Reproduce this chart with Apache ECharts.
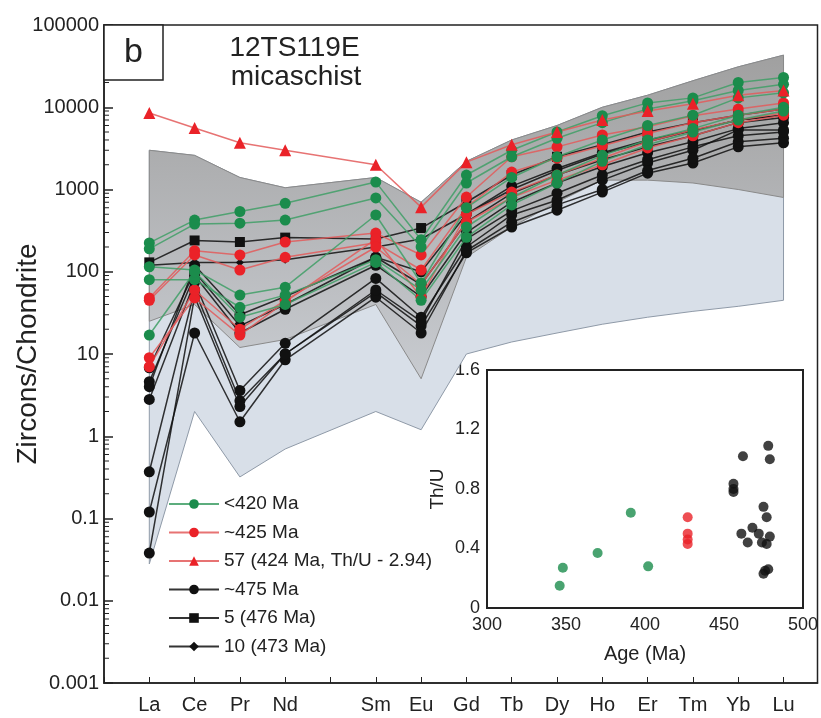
<!DOCTYPE html>
<html><head><meta charset="utf-8">
<script src="https://cdn.jsdelivr.net/npm/echarts@6/dist/echarts.min.js"></script>
<style>html,body{margin:0;padding:0;background:#fff}#c{width:821px;height:718px}</style>
</head><body><div id="c"></div>
<script>
// ---------- categories / ticks ----------
const elements = ['La','Ce','Pr','Nd','Pm','Sm','Eu','Gd','Tb','Dy','Ho','Er','Tm','Yb','Lu'];
const yTickLabels = ['0.001','0.01','0.1','1','10','100','1000','10000','100000'];
const insetYLabels = ['0','0.4','0.8','1.2','1.6'];
const insetXLabels = ['300','350','400','450','500'];

// ---------- reference fields (upper / lower boundaries) ----------
const fieldTop   = [3000, 2600, 1400, 1050, null, 1400, 700, 2200, 4000, 6000, 10000, 14000, 21000, 31000, 43000];
const grayLower  = [25, 40, 12, 15, null, 40, 5, 150, 350, 700, 1300, 1300, 1200, 1000, 800];
const blueLower  = [0.028, 2, 0.32, 0.7, null, 2, 1.2, 10, 14, 18, 23, 28, 33, 38, 45];

// ---------- <420 Ma (green) ----------
const g1 = [224, 425, 540, 680, null, 1230, 245, 1500, 3000, 5000, 7900, 11300, 13000, 20000, 23000];
const g2 = [190, 380, 390, 425, null, 790, 200, 1200, 2500, 4200, 6500, 9500, 12000, 16000, 19000];
const g3 = [115, 105, 52, 65, null, 490, 73, 600, 1400, 2500, 4000, 6000, 8000, 13000, 15000];
const g4 = [80, 80, 37, 52, null, 140, 60, 350, 800, 1500, 2600, 4000, 5500, 8000, 10000];
const g5 = [17, 100, 28, 40, null, 130, 45, 262, 650, 1200, 2200, 3500, 5000, 7000, 9000];
// ---------- ~425 Ma (red) ----------
const r1 = [48, 180, 160, 230, null, 295, 160, 810, 2500, 3300, 4600, 5800, 7900, 9500, 11300];
const r2 = [45, 160, 105, 150, null, 225, 105, 610, 1630, 2400, 3400, 4800, 6500, 8000, 9500];
const r3 = [9, 48, 17, 43, null, 250, 49, 500, 930, 1500, 2400, 3800, 5300, 7000, 8500];
const r4 = [7, 60, 20, 45, null, 200, 70, 400, 800, 1300, 2000, 3200, 4500, 6500, 8000];
// ---------- spot 57 (red triangle) ----------
const s57 = [8500, 5600, 3700, 3000, null, 2000, 610, 2150, 3500, 5000, 7000, 9000, 11000, 14000, 16000];
// ---------- ~475 Ma (black circles) ----------
const b1 = [6.8, 100, 22, 40, null, 150, 70, 400, 900, 1500, 2300, 3300, 4500, 6500, 7500];
const b2 = [4.6, 90, 18, 35, null, 120, 50, 300, 700, 1200, 1900, 2800, 3800, 5500, 6500];
const b3 = [2.8, 75, 3.6, 13.5, null, 83, 28, 200, 490, 740, 1300, 2100, 3000, 5300, 5300];
const b4 = [0.37, 60, 2.7, 10, null, 56, 22, 170, 350, 560, 930, 1580, 2100, 3300, 3700];
const b5 = [0.12, 18, 1.5, 8.5, null, 49, 18, 180, 400, 650, 1000, 1700, 2400, 3800, 4200];
const b6 = [0.038, 50, 2.3, 10, null, 60, 25, 250, 550, 900, 1500, 2300, 3300, 4500, 5000];
const b7 = [4, 120, 30, 50, null, 150, 100, 500, 1100, 1800, 2800, 4000, 5200, 7000, 8000];
// ---------- spot 5 (black square) and spot 10 (black diamond) ----------
const s5  = [130, 240, 230, 260, null, 250, 340, 700, 1500, 2500, 3500, 5000, 6500, 8000, 9500];
const s10 = [120, 130, 130, 140, null, 200, 250, 500, 1000, 1700, 2700, 3800, 5200, 7000, 8000];

// ---------- inset Th/U vs age ----------
const agesGreen = [348, 346, 370, 391, 402];
const thuGreen  = [0.27, 0.15, 0.37, 0.64, 0.28];
const agesRed   = [427, 427, 427, 427];
const thuRed    = [0.61, 0.50, 0.46, 0.43];
const agesBlack = [462, 456, 456, 456, 478, 479, 475, 477, 461, 465, 468, 472, 474, 477, 479, 476, 478, 475];
const thuBlack  = [1.02, 0.835, 0.80, 0.78, 1.09, 1.00, 0.68, 0.61, 0.50, 0.44, 0.54, 0.50, 0.44, 0.43, 0.48, 0.25, 0.26, 0.23];

const GREEN = '#1b8c4c', GREEN_LINE = '#3f9f66';
const RED = '#ea2228', RED_LINE = '#e35a5a';
const BLACK = '#111111';

function pairs(arr){ const out=[]; arr.forEach((v,i)=>{ if(v!=null) out.push([i,v]); }); return out; }

function lineSeries(name, arr, color, lineColor, symbol, size, z){
  return {
    type:'line', name, data: pairs(arr), xAxisIndex:0, yAxisIndex:0,
    symbol, symbolSize:size, showSymbol:true, connectNulls:true,
    itemStyle:{color, borderColor:color, borderWidth:0, opacity:1},
    lineStyle:{color:lineColor, width:1.5, opacity:0.85},
    z, animation:false, emphasis:{disabled:true}
  };
}

function polygonSeries(top, bottom, fill, stroke, z){
  return {
    type:'custom', xAxisIndex:0, yAxisIndex:0, z, silent:true, animation:false,
    data:[[0,1]],
    renderItem(params, api){
      const pts=[];
      top.forEach((v,i)=>{ if(v!=null) pts.push(api.coord([i,v])); });
      for(let i=bottom.length-1;i>=0;i--){ if(bottom[i]!=null) pts.push(api.coord([i,bottom[i]])); }
      return {type:'polygon', shape:{points:pts}, style:{fill, stroke, lineWidth:1}};
    }
  };
}

const minorVals=[];
for(let e=-3;e<5;e++){ for(let k=2;k<=9;k++){ minorVals.push([ -1, k*Math.pow(10,e) ]); } }

const chart = echarts.init(document.getElementById('c'), null, {renderer:'canvas'});
const FONT = 'Liberation Sans, Arial, sans-serif';

const series = [
  polygonSeries(fieldTop, blueLower, '#d8dfe8', '#8f9aa8', 1),
  polygonSeries(fieldTop, grayLower, new echarts.graphic.LinearGradient(0,0,0,1,[{offset:0,color:'#a0a0a0'},{offset:1,color:'#c8cbd0'}]), '#8a8a8a', 1),
  {
    type:'custom', xAxisIndex:0, yAxisIndex:0, z:5, silent:true, animation:false, data:minorVals,
    renderItem(params, api){
      const p = api.coord([api.value(0), api.value(1)]);
      return {type:'line', shape:{x1:p[0], y1:p[1], x2:p[0]+5, y2:p[1]}, style:{stroke:'#222', lineWidth:1}};
    }
  },
  lineSeries('~475 Ma', b1, BLACK, BLACK, 'circle', 11, 3),
  lineSeries('~475 Ma', b2, BLACK, BLACK, 'circle', 11, 3),
  lineSeries('~475 Ma', b3, BLACK, BLACK, 'circle', 11, 3),
  lineSeries('~475 Ma', b4, BLACK, BLACK, 'circle', 11, 3),
  lineSeries('~475 Ma', b5, BLACK, BLACK, 'circle', 11, 3),
  lineSeries('~475 Ma', b6, BLACK, BLACK, 'circle', 11, 3),
  lineSeries('~475 Ma', b7, BLACK, BLACK, 'circle', 11, 3),
  lineSeries('5 (476 Ma)', s5, BLACK, BLACK, 'rect', 10, 3),
  lineSeries('10 (473 Ma)', s10, BLACK, BLACK, 'diamond', 8, 3),
  lineSeries('~425 Ma', r1, RED, RED_LINE, 'circle', 11, 4),
  lineSeries('~425 Ma', r2, RED, RED_LINE, 'circle', 11, 4),
  lineSeries('~425 Ma', r3, RED, RED_LINE, 'circle', 11, 4),
  lineSeries('~425 Ma', r4, RED, RED_LINE, 'circle', 11, 4),
  lineSeries('<420 Ma', g1, GREEN, GREEN_LINE, 'circle', 11, 4),
  lineSeries('<420 Ma', g2, GREEN, GREEN_LINE, 'circle', 11, 4),
  lineSeries('<420 Ma', g3, GREEN, GREEN_LINE, 'circle', 11, 4),
  lineSeries('<420 Ma', g4, GREEN, GREEN_LINE, 'circle', 11, 4),
  lineSeries('<420 Ma', g5, GREEN, GREEN_LINE, 'circle', 11, 4),
  lineSeries('57 (424 Ma, Th/U - 2.94)', s57, RED, RED_LINE, 'triangle', 12, 4),
  // inset
  {type:'scatter', xAxisIndex:1, yAxisIndex:1, data:agesGreen.map((a,i)=>[a,thuGreen[i]]), symbolSize:10, itemStyle:{color:GREEN}, z:10, animation:false,
   markLine:{silent:true, symbol:'none', label:{show:false}, lineStyle:{color:'#8a8a8a', type:'solid', width:2}, data:[{yAxis:0.4}], animation:false}},
  {type:'scatter', xAxisIndex:1, yAxisIndex:1, data:agesRed.map((a,i)=>[a,thuRed[i]]), symbolSize:10, itemStyle:{color:RED}, z:10, animation:false},
  {type:'scatter', xAxisIndex:1, yAxisIndex:1, data:agesBlack.map((a,i)=>[a,thuBlack[i]]), symbolSize:10, itemStyle:{color:BLACK}, z:10, animation:false}
];

chart.setOption({
  backgroundColor:'#ffffff',
  animation:false,
  textStyle:{fontFamily:FONT},
  grid:[
    {left:104, right:3.5, top:25, bottom:35, show:true, borderColor:'#222', borderWidth:1.5, backgroundColor:'transparent', outerBoundsMode:'none', containLabel:false},
    {left:487, right:18, top:370, bottom:110, show:true, borderColor:'#222', borderWidth:2, backgroundColor:'#ffffff', z:8, outerBoundsMode:'none', containLabel:false}
  ],
  xAxis:[
    {type:'value', gridIndex:0, min:-1, max:14.75, interval:1,
     axisLine:{show:true, onZero:false, lineStyle:{color:'#222', width:1.5}},
     axisTick:{show:true, inside:true, length:6, lineStyle:{color:'#222'}},
     splitLine:{show:false},
     axisLabel:{fontSize:20, color:'#222', margin:12, fontFamily:FONT, showMaxLabel:false,
       formatter:v=>{ if(!Number.isInteger(v)||v<0) return ''; const n=elements[v]; return n==='Pm'?'':n; }}},
    {type:'value', gridIndex:1, min:300, max:500, interval:25,
     axisLine:{show:true, onZero:false, lineStyle:{color:'#222', width:2}},
     axisTick:{show:true, inside:true, length:7, lineStyle:{color:'#222', width:1.5}},
     splitLine:{show:false},
     name:'Age (Ma)', nameLocation:'middle', nameGap:36, nameMoveOverlap:false,
     nameTextStyle:{fontSize:20, color:'#222', fontFamily:FONT},
     axisLabel:{fontSize:18, color:'#222', margin:8, fontFamily:FONT,
       formatter:v=>{ const s=String(v); return insetXLabels.indexOf(s)>=0? s : ''; }}}
  ],
  yAxis:[
    {type:'log', gridIndex:0, logBase:10, min:0.001, max:100000,
     axisLine:{show:true, onZero:false, lineStyle:{color:'#222', width:1.5}},
     axisTick:{show:true, inside:true, length:9, lineStyle:{color:'#222', width:1.5}},
     splitLine:{show:false},
     name:'Zircons/Chondrite', nameLocation:'middle', nameGap:62, nameRotate:90, nameMoveOverlap:false,
     nameTextStyle:{fontSize:28, color:'#222', fontFamily:FONT},
     axisLabel:{fontSize:20, color:'#222', margin:5, fontFamily:FONT,
       formatter:v=>{ const e=Math.round(Math.log10(v)); return yTickLabels[e+3]; }}},
    {type:'value', gridIndex:1, min:0, max:1.6, interval:0.4,
     axisLine:{show:true, onZero:false, lineStyle:{color:'#222', width:2}},
     axisTick:{show:false},
     splitLine:{show:true, lineStyle:{color:'#9a9a9a', type:[8,6], width:1.2}},
     name:'Th/U', nameLocation:'middle', nameGap:40, nameRotate:90, nameMoveOverlap:false,
     nameTextStyle:{fontSize:19, color:'#222', fontFamily:FONT},
     axisLabel:{fontSize:18, color:'#222', margin:7, fontFamily:FONT,
       formatter:v=>{ const i=Math.round(v/0.4); return insetYLabels[i]; }}}
  ],
  legend:{
    orient:'vertical', left:163, top:489, itemWidth:50, itemHeight:12, itemGap:8.5,
    textStyle:{fontSize:19, color:'#222', fontFamily:FONT, lineHeight:20, padding:[0,0,0,0]},
    data:['<420 Ma','~425 Ma','57 (424 Ma, Th/U - 2.94)','~475 Ma','5 (476 Ma)','10 (473 Ma)'],
    selectedMode:false
  },
  graphic:[
    {type:'rect', shape:{x:104, y:25, width:59, height:55}, style:{fill:'#fff', stroke:'#222', lineWidth:1.5}, z:20},
    {type:'text', x:133.5, y:53, style:{text:'b', font:'34px '+FONT, fill:'#222', textAlign:'center', textVerticalAlign:'middle'}, z:21},
    {type:'text', x:294.5, y:48, style:{text:'12TS119E', font:'28px '+FONT, fill:'#222', textAlign:'center', textVerticalAlign:'middle'}, z:21},
    {type:'text', x:296, y:77, style:{text:'micaschist', font:'28px '+FONT, fill:'#222', textAlign:'center', textVerticalAlign:'middle'}, z:21}
  ],
  series
});
</script></body></html>
